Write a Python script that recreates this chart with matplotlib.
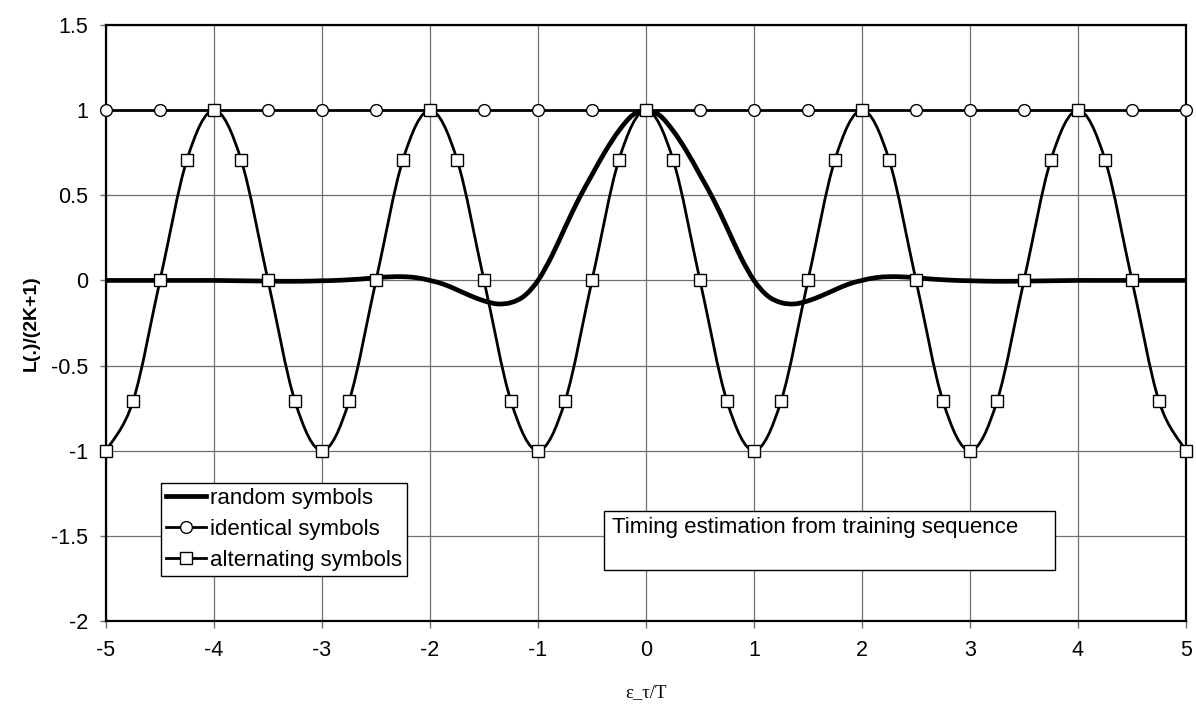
import numpy as np
import matplotlib
matplotlib.use("Agg")
import matplotlib.pyplot as plt
from matplotlib.path import Path
from matplotlib.patches import PathPatch, Rectangle
from matplotlib.lines import Line2D

# ---------------- data ----------------
x_random = [-5.0, -4.875, -4.75, -4.625, -4.5, -4.375, -4.25, -4.125, -4.0,
            -3.875, -3.75, -3.625, -3.5, -3.375, -3.25, -3.125, -3.0,
            -2.875, -2.75, -2.625, -2.5, -2.375, -2.25, -2.125, -2.0,
            -1.875, -1.75, -1.625, -1.5, -1.375, -1.25, -1.125, -1.0,
            -0.875, -0.75, -0.625, -0.5, -0.375, -0.25, -0.125, 0.0,
            0.125, 0.25, 0.375, 0.5, 0.625, 0.75, 0.875, 1.0,
            1.125, 1.25, 1.375, 1.5, 1.625, 1.75, 1.875, 2.0,
            2.125, 2.25, 2.375, 2.5, 2.625, 2.75, 2.875, 3.0,
            3.125, 3.25, 3.375, 3.5, 3.625, 3.75, 3.875, 4.0,
            4.125, 4.25, 4.375, 4.5, 4.625, 4.75, 4.875, 5.0]

random_symbols = [0.0, 0.0, 0.0, 0.0, 0.0, 0.0, 0.0, 0.0, 0.0,
                  -0.001, -0.002, -0.003, -0.004, -0.005, -0.005, -0.004, -0.002,
                  0.0, 0.004, 0.009, 0.016, 0.021, 0.022, 0.016, 0.0,
                  -0.022, -0.055, -0.09, -0.12, -0.138, -0.13, -0.09, 0.0,
                  0.14, 0.31, 0.475, 0.62, 0.76, 0.88, 0.97, 1.0,
                  0.97, 0.88, 0.76, 0.62, 0.475, 0.31, 0.14, 0.0,
                  -0.09, -0.13, -0.138, -0.12, -0.09, -0.055, -0.022, 0.0,
                  0.016, 0.022, 0.021, 0.016, 0.009, 0.004, 0.0, -0.002,
                  -0.004, -0.005, -0.005, -0.004, -0.003, -0.002, -0.001, 0.0,
                  0.0, 0.0, 0.0, 0.0, 0.0, 0.0, 0.0, 0.0]

x_quarter = [-5.0, -4.75, -4.5, -4.25, -4.0, -3.75, -3.5, -3.25, -3.0, -2.75, -2.5,
             -2.25, -2.0, -1.75, -1.5, -1.25, -1.0, -0.75, -0.5, -0.25, 0.0,
             0.25, 0.5, 0.75, 1.0, 1.25, 1.5, 1.75, 2.0, 2.25, 2.5,
             2.75, 3.0, 3.25, 3.5, 3.75, 4.0, 4.25, 4.5, 4.75, 5.0]

alternating_symbols = [-1.0, -0.71, 0.0, 0.71, 1.0, 0.71, 0.0, -0.71, -1.0, -0.71, 0.0,
                       0.71, 1.0, 0.71, 0.0, -0.71, -1.0, -0.71, 0.0, 0.71, 1.0,
                       0.71, 0.0, -0.71, -1.0, -0.71, 0.0, 0.71, 1.0, 0.71, 0.0,
                       -0.71, -1.0, -0.71, 0.0, 0.71, 1.0, 0.71, 0.0, -0.71, -1.0]

x_half = [-5.0, -4.5, -4.0, -3.5, -3.0, -2.5, -2.0, -1.5, -1.0, -0.5, 0.0,
          0.5, 1.0, 1.5, 2.0, 2.5, 3.0, 3.5, 4.0, 4.5, 5.0]
identical_symbols = [1.0] * 21

labels = ["random symbols", "identical symbols", "alternating symbols"]
x_ticks = [-5, -4, -3, -2, -1, 0, 1, 2, 3, 4, 5]
x_ticklabels = ["-5", "-4", "-3", "-2", "-1", "0", "1", "2", "3", "4", "5"]
y_ticks = [-2, -1.5, -1, -0.5, 0, 0.5, 1, 1.5]
y_ticklabels = ["-2", "-1.5", "-1", "-0.5", "0", "0.5", "1", "1.5"]
annotation = "Timing estimation from training sequence"
xlabel = "\u03b5_\u03c4/T"
ylabel = "L(.)/(2K+1)"

# ---------------- style ----------------
SANS = ["Liberation Sans", "DejaVu Sans"]
SERIF = ["Liberation Serif", "DejaVu Serif"]
plt.rcParams["font.family"] = SANS
plt.rcParams["axes.unicode_minus"] = False
FS = 16
TICK_FS = 15.5
LW_THICK = 3.4
LW_THIN = 2.0
GRID_C = "#707070"


def smooth_path(xs, ys):
    """Excel-like smoothed line (Catmull-Rom -> cubic Bezier) through the data points."""
    n = len(xs)
    verts = [(xs[0], ys[0])]
    codes = [Path.MOVETO]
    for i in range(n - 1):
        p0 = i - 1 if i > 0 else i
        p3 = i + 2 if i + 2 < n else i + 1
        c1 = (xs[i] + (xs[i + 1] - xs[p0]) / 6.0, ys[i] + (ys[i + 1] - ys[p0]) / 6.0)
        c2 = (xs[i + 1] - (xs[p3] - xs[i]) / 6.0, ys[i + 1] - (ys[p3] - ys[i]) / 6.0)
        verts += [c1, c2, (xs[i + 1], ys[i + 1])]
        codes += [Path.CURVE4] * 3
    return Path(verts, codes)


fig = plt.figure(figsize=(11.96, 7.11), dpi=100)
ax = fig.add_axes([106 / 1196, 1 - 621 / 711, 1080 / 1196, 596 / 711])

ax.set_xlim(-5, 5)
ax.set_ylim(-2, 1.5)
ax.set_xticks(x_ticks)
ax.set_xticklabels(x_ticklabels)
ax.set_yticks(y_ticks)
ax.set_yticklabels(y_ticklabels)
ax.grid(True, color=GRID_C, lw=0.9)
ax.set_axisbelow(True)
for s in ax.spines.values():
    s.set_color("black")
    s.set_linewidth(1.6)
ax.tick_params(axis="x", direction="out", length=5, width=1, pad=9, labelsize=TICK_FS, color=GRID_C)
ax.tick_params(axis="y", direction="out", length=4, width=1, pad=9, labelsize=TICK_FS, color=GRID_C)

# random symbols (thick smoothed line)
ax.add_patch(PathPatch(smooth_path(x_random, random_symbols), fill=False, edgecolor="black",
                       lw=LW_THICK, capstyle="butt", joinstyle="round", zorder=3))
# identical symbols
ax.plot(x_half, identical_symbols, color="black", lw=LW_THIN, marker="o", markersize=8.5,
        markerfacecolor="white", markeredgecolor="black", markeredgewidth=1.0,
        zorder=4, clip_on=False)
# alternating symbols (smoothed line + square markers)
ax.add_patch(PathPatch(smooth_path(x_quarter, alternating_symbols), fill=False, edgecolor="black",
                       lw=LW_THIN, capstyle="butt", joinstyle="round", zorder=5))
ax.plot(x_quarter, alternating_symbols, linestyle="none", marker="s", markersize=8.5,
        markerfacecolor="white", markeredgecolor="black", markeredgewidth=1.0,
        zorder=6, clip_on=False)

# legend
handles = [
    Line2D([], [], color="black", lw=LW_THICK),
    Line2D([], [], color="black", lw=LW_THIN, marker="o", markersize=8.5,
           markerfacecolor="white", markeredgecolor="black", markeredgewidth=1.0),
    Line2D([], [], color="black", lw=LW_THIN, marker="s", markersize=8.5,
           markerfacecolor="white", markeredgecolor="black", markeredgewidth=1.0),
]
leg = ax.legend(handles, labels, loc="upper left", bbox_to_anchor=(55 / 1080, (621 - 483) / 596),
                borderaxespad=0, fontsize=FS, handlelength=1.8, handletextpad=0.2,
                labelspacing=0.45, borderpad=0.22, fancybox=False, framealpha=1,
                edgecolor="black")
leg.get_frame().set_linewidth(1.0)
leg.set_zorder(10)

# annotation box
ax.add_patch(Rectangle(((604 - 106) / 1080, (621 - 570) / 596), (1055 - 604) / 1080, 59 / 596,
                       transform=ax.transAxes, facecolor="white", edgecolor="black", lw=1.0,
                       zorder=10))
ax.text((612 - 106) / 1080, (621 - 533) / 596, annotation, transform=ax.transAxes,
        fontsize=FS, ha="left", va="baseline", zorder=11)

# axis labels
fig.text(646 / 1196, 1 - 693 / 711, xlabel, family=SERIF, fontsize=13.5, ha="center", va="center")
fig.text(31 / 1196, 1 - 323 / 711, ylabel, fontsize=14, fontweight="bold", rotation=90,
         ha="center", va="center")

fig.savefig("out.png", dpi=100)
